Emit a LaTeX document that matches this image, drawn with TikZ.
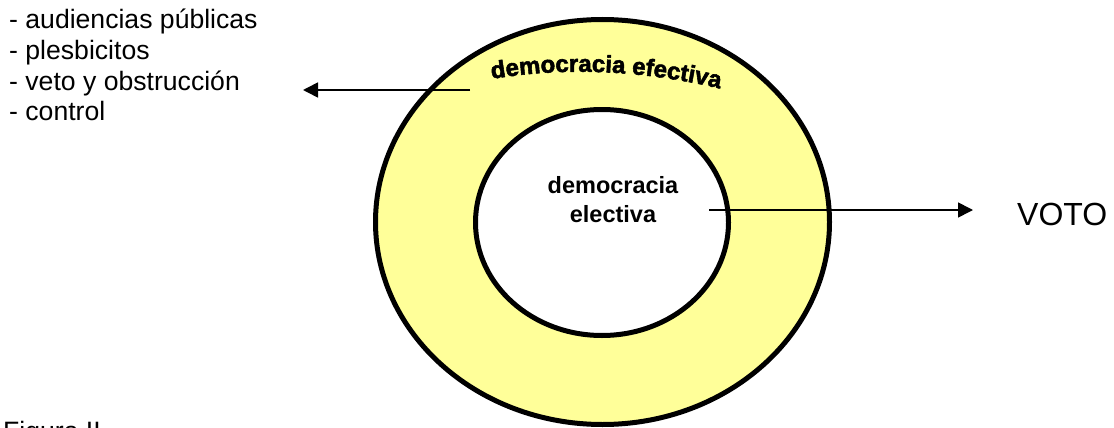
\documentclass[tikz,border=0pt]{standalone}
\usepackage{fontspec}
\setmainfont{Liberation Sans}
\newfontfamily\wafont{Liberation Sans Bold}[FakeBold=2.2]
\usetikzlibrary{arrows.meta,decorations.text,shapes.geometric}
\definecolor{ringyellow}{HTML}{FFFF99}
\begin{document}
\begin{tikzpicture}[x=1pt,y=-1pt,
  ring/.style={draw,ellipse,line width=5pt,inner sep=0pt},
  conn/.style={line width=1.6pt,-{Triangle[length=15pt,width=15pt]}},
  listtxt/.style={anchor=base west,inner sep=0pt,font=\fontsize{26.6}{30}\selectfont},
  inntxt/.style={anchor=base,inner sep=0pt,font=\bfseries\fontsize{23.5}{28}\selectfont},
]
\useasboundingbox (0,0) rectangle (1114,428);
\clip (0,0) rectangle (1114,428);
% rings
\node[ring,fill=ringyellow,minimum width=454pt,minimum height=405pt] (outer) at (602.5,222) {};
\node[ring,fill=white,minimum width=253pt,minimum height=226pt] (inner) at (602,222.5) {};
% arced label
\coordinate (a0) at (492,79);
\coordinate (a1) at (730,91);
\path[decorate,decoration={text along path,text align=left,
  text={|\wafont\fontsize{24}{24}\selectfont|democracia efectiva}}]
  (a0) .. controls (568,66) and (650,70.8) .. (a1);
% inner label
\node[inntxt] (el1) at (613,193) {democracia};
\node[inntxt] (el2) at (613,222) {electiva};
% list
\node[listtxt] (l1) at (9,29) {- audiencias públicas};
\node[listtxt] (l2) at (9,59.5) {- plesbicitos};
\node[listtxt] (l3) at (9,90) {- veto y obstrucción};
\node[listtxt] (l4) at (9,120.5) {- control};
% VOTO
\node[anchor=base west,inner sep=0pt,font=\fontsize{32}{36}\selectfont] (voto) at (1017,225) {VOTO};
% caption (cut off)
\node[listtxt] (fig) at (3,440.5) {Figura II};
% connectors
\coordinate (rs) at (709,210);
\coordinate (re) at (973,210);
\coordinate (ls) at (470,90);
\coordinate (le) at (303,90);
\draw[conn] (rs) -- (re);
\draw[conn] (ls) -- (le);
\end{tikzpicture}
\end{document}
